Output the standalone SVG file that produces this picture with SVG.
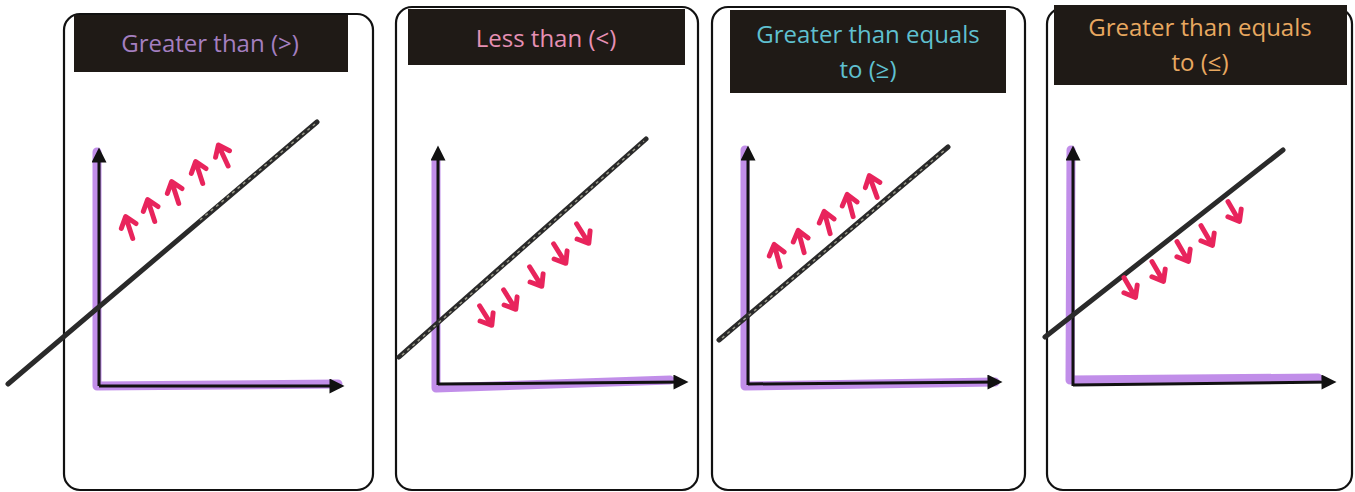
<svg xmlns="http://www.w3.org/2000/svg" width="1355" height="492" viewBox="0 0 1355 492">
<style>
.frame{fill:#fff;stroke:#111;stroke-width:2.2}
.hdr{fill:#1f1a16}
.t{font-family:"Open Sans","Noto Sans",sans-serif;font-size:24px;text-anchor:middle}
.ax{stroke:#111;stroke-width:3;fill:none}
.hl{stroke:#a65ee0;stroke-width:9;opacity:0.7;fill:none;stroke-linecap:round;stroke-linejoin:round}
.bd{stroke:#2a2a2a;stroke-width:5;stroke-linecap:round}
.bdx{stroke:#9a9a8a;stroke-width:1.5;stroke-dasharray:3 4}
.ar{stroke:#e8245c;stroke-width:4.5;fill:none;stroke-linecap:round;stroke-linejoin:round}
</style>
<defs>
<marker id="ah" viewBox="0 0 10 10" refX="7" refY="5" markerUnits="userSpaceOnUse" markerWidth="16" markerHeight="15" orient="auto"><path d="M0,0 L10,5 L0,10 z" fill="#111"/></marker>
<g id="arr"><path class="ar" d="M0,11 L0,-9 M-7,-1 L0,-10 L7,-1"/></g>
</defs>
<rect width="1355" height="492" fill="#fff"/>

<g id="panel1">
<rect class="frame" x="64" y="14" width="309" height="476" rx="16"/>
<rect class="hdr" x="74" y="15" width="274" height="57"/>
<text class="t" x="210" y="52" fill="#a47fc0">Greater than (&gt;)</text>
<path class="hl" d="M97,152 L97,386 L338,384"/>
<path class="ax" d="M99,386 L99,152" marker-end="url(#ah)"/>
<path class="ax" d="M99,386 L340,386" marker-end="url(#ah)"/>
<line class="bd" x1="8" y1="384" x2="317" y2="122"/>
<line class="bdx" x1="200" y1="220" x2="315" y2="124"/>
<use href="#arr" transform="translate(129,227) rotate(-18) scale(1.1)"/>
<use href="#arr" transform="translate(151,210) rotate(-18) scale(1.1)"/>
<use href="#arr" transform="translate(175,192) rotate(-18) scale(1.1)"/>
<use href="#arr" transform="translate(199,172) rotate(-18) scale(1.1)"/>
<use href="#arr" transform="translate(223,155) rotate(-25) scale(1.1)"/>
</g>

<g id="panel2">
<rect class="frame" x="396" y="7" width="302" height="483" rx="16"/>
<rect class="hdr" x="408" y="9" width="277" height="56"/>
<text class="t" x="546" y="47" fill="#e690b4">Less than (&lt;)</text>
<path class="hl" d="M436,160 L436,388 L670,380"/>
<path class="ax" d="M438,385 L438,150" marker-end="url(#ah)"/>
<path class="ax" d="M438,384 L684,382" marker-end="url(#ah)"/>
<line class="bd" x1="399" y1="357" x2="646" y2="139" stroke="#3a3a36"/>
<line class="bdx" x1="402" y1="355" x2="644" y2="141"/>
<use href="#arr" transform="translate(486,316) rotate(148) scale(1.1)"/>
<use href="#arr" transform="translate(510,300) rotate(148) scale(1.1)"/>
<use href="#arr" transform="translate(536,277) rotate(148) scale(1.1)"/>
<use href="#arr" transform="translate(560,254) rotate(148) scale(1.1)"/>
<use href="#arr" transform="translate(583,234) rotate(148) scale(1.1)"/>
</g>

<g id="panel3">
<rect class="frame" x="712" y="7" width="313" height="483" rx="16"/>
<rect class="hdr" x="730" y="10" width="276" height="83"/>
<text class="t" x="868" y="43" fill="#5fc0d0">Greater than equals</text>
<text class="t" x="868" y="78" fill="#5fc0d0">to (≥)</text>
<path class="hl" d="M745,150 L745,386 L995,382"/>
<path class="ax" d="M748,385 L748,150" marker-end="url(#ah)"/>
<path class="ax" d="M748,384 L998,382" marker-end="url(#ah)"/>
<line class="bd" x1="719" y1="340" x2="948" y2="147" stroke="#3a3a36"/>
<line class="bdx" x1="722" y1="338" x2="946" y2="149"/>
<use href="#arr" transform="translate(777,255) rotate(-15) scale(1.1)"/>
<use href="#arr" transform="translate(801,241) rotate(-15) scale(1.1)"/>
<use href="#arr" transform="translate(827,222) rotate(-15) scale(1.1)"/>
<use href="#arr" transform="translate(850,205) rotate(-15) scale(1.1)"/>
<use href="#arr" transform="translate(873,186) rotate(-20) scale(1.1)"/>
</g>

<g id="panel4">
<rect class="frame" x="1047" y="8" width="305" height="482" rx="16"/>
<rect class="hdr" x="1054" y="5" width="293" height="80"/>
<text class="t" x="1200" y="36" fill="#e8a860">Greater than equals</text>
<text class="t" x="1200" y="71" fill="#e8a860">to (≤)</text>
<path class="hl" d="M1071,150 L1070,380 L1318,378"/>
<path class="ax" d="M1073,386 L1073,150" marker-end="url(#ah)"/>
<path class="ax" d="M1073,385 L1332,382" marker-end="url(#ah)"/>
<line class="bd" x1="1045" y1="337" x2="1283" y2="150" stroke="#2c2c2a"/>
<use href="#arr" transform="translate(1130,288) rotate(150) scale(1.1)"/>
<use href="#arr" transform="translate(1158,272) rotate(150) scale(1.1)"/>
<use href="#arr" transform="translate(1183,252) rotate(150) scale(1.1)"/>
<use href="#arr" transform="translate(1207,236) rotate(150) scale(1.1)"/>
<use href="#arr" transform="translate(1234,212) rotate(150) scale(1.1)"/>
</g>
</svg>
